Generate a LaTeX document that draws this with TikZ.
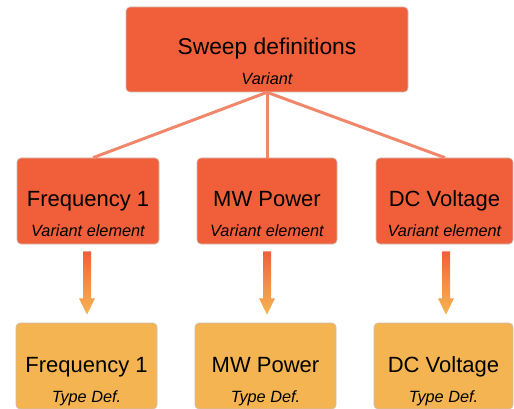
\documentclass[tikz,border=0pt]{standalone}
\usepackage{fontspec}
\setmainfont{Liberation Sans}
\usetikzlibrary{calc}
\definecolor{varred}{RGB}{241,95,58}
\definecolor{typeorange}{RGB}{245,180,82}
\definecolor{linksalmon}{RGB}{241,135,106}
\definecolor{edgegray}{RGB}{205,190,180}
\tikzset{
  box/.style={draw=edgegray, line width=0.6pt, rounded corners=4pt, inner sep=0pt},
  variantbox/.style={box, fill=varred},
  typebox/.style={box, fill=typeorange},
  title/.style={anchor=base, inner sep=0pt, font=\fontsize{22}{24}\selectfont},
  subtitle/.style={anchor=base, inner sep=0pt, font=\fontsize{16.3}{18}\selectfont\itshape},
  link/.style={draw=linksalmon, line width=3pt},
}
\begin{document}
\begin{tikzpicture}[x=1pt,y=-1pt]
\useasboundingbox (0,0) rectangle (514,409);

% sweep definitions
\node[variantbox, minimum width=282pt, minimum height=85pt] (sweep) at (267,49.5) {};
\node[title, font=\fontsize{22.8}{26}\selectfont] (sweeptxt) at ($(sweep.north)+(0,48)$) {Sweep definitions};
\node[subtitle] (sweepsub) at ($(sweep.north)+(0,78)$) {Variant};

% variant elements
\node[variantbox, minimum width=142pt, minimum height=86pt] (f1) at (88,201) {};
\node[variantbox, minimum width=140pt, minimum height=86pt] (mw) at (267,201) {};
\node[variantbox, minimum width=137pt, minimum height=86pt] (dc) at (444.5,201) {};

% type definitions
\node[typebox, minimum width=141pt, minimum height=86pt] (t1) at (86.5,366) {};
\node[typebox, minimum width=141pt, minimum height=86pt] (t2) at (265.5,366) {};
\node[typebox, minimum width=139pt, minimum height=86pt] (t3) at (443.5,366) {};

% links from the sweep definition to its variant elements
\draw[link] (sweep.south) -- ($(f1.north)+(5,0)$);
\draw[link] (sweep.south) -- (mw.north);
\draw[link] (sweep.south) -- ($(dc.north)+(0.5,0)$);

\foreach \b/\txt in {f1/Frequency 1, mw/MW Power, dc/DC Voltage}{
  \node[title] (\b-txt) at ($(\b.north)+(0,49)$) {\txt};
  \node[subtitle] (\b-sub) at ($(\b.north)+(0,79)$) {Variant element};
}
\foreach \b/\txt in {t1/Frequency 1, t2/MW Power, t3/DC Voltage}{
  \node[title] (\b-txt) at ($(\b.north)+(0,50)$) {\txt};
  \node[subtitle] (\b-sub) at ($(\b.north)+(0,80)$) {Type Def.};
}

% shaded block arrows from each variant element to its type definition
\foreach \a/\b/\dx in {f1/t1/-1, mw/t2/0, dc/t3/1.5}{
  \shade[top color=varred, bottom color=typeorange, middle color=varred!45!typeorange]
    ($(\a.south)+(\dx-4,7)$) -- ($(\a.south)+(\dx+4,7)$) --
    ($(\a.south)+(\dx+4,54)$) -- ($(\a.south)+(\dx+8,54)$) --
    ($(\a.south |- \b.north)+(\dx,-8)$) --
    ($(\a.south)+(\dx-8,54)$) -- ($(\a.south)+(\dx-4,54)$) -- cycle;
}
\end{tikzpicture}
\end{document}
